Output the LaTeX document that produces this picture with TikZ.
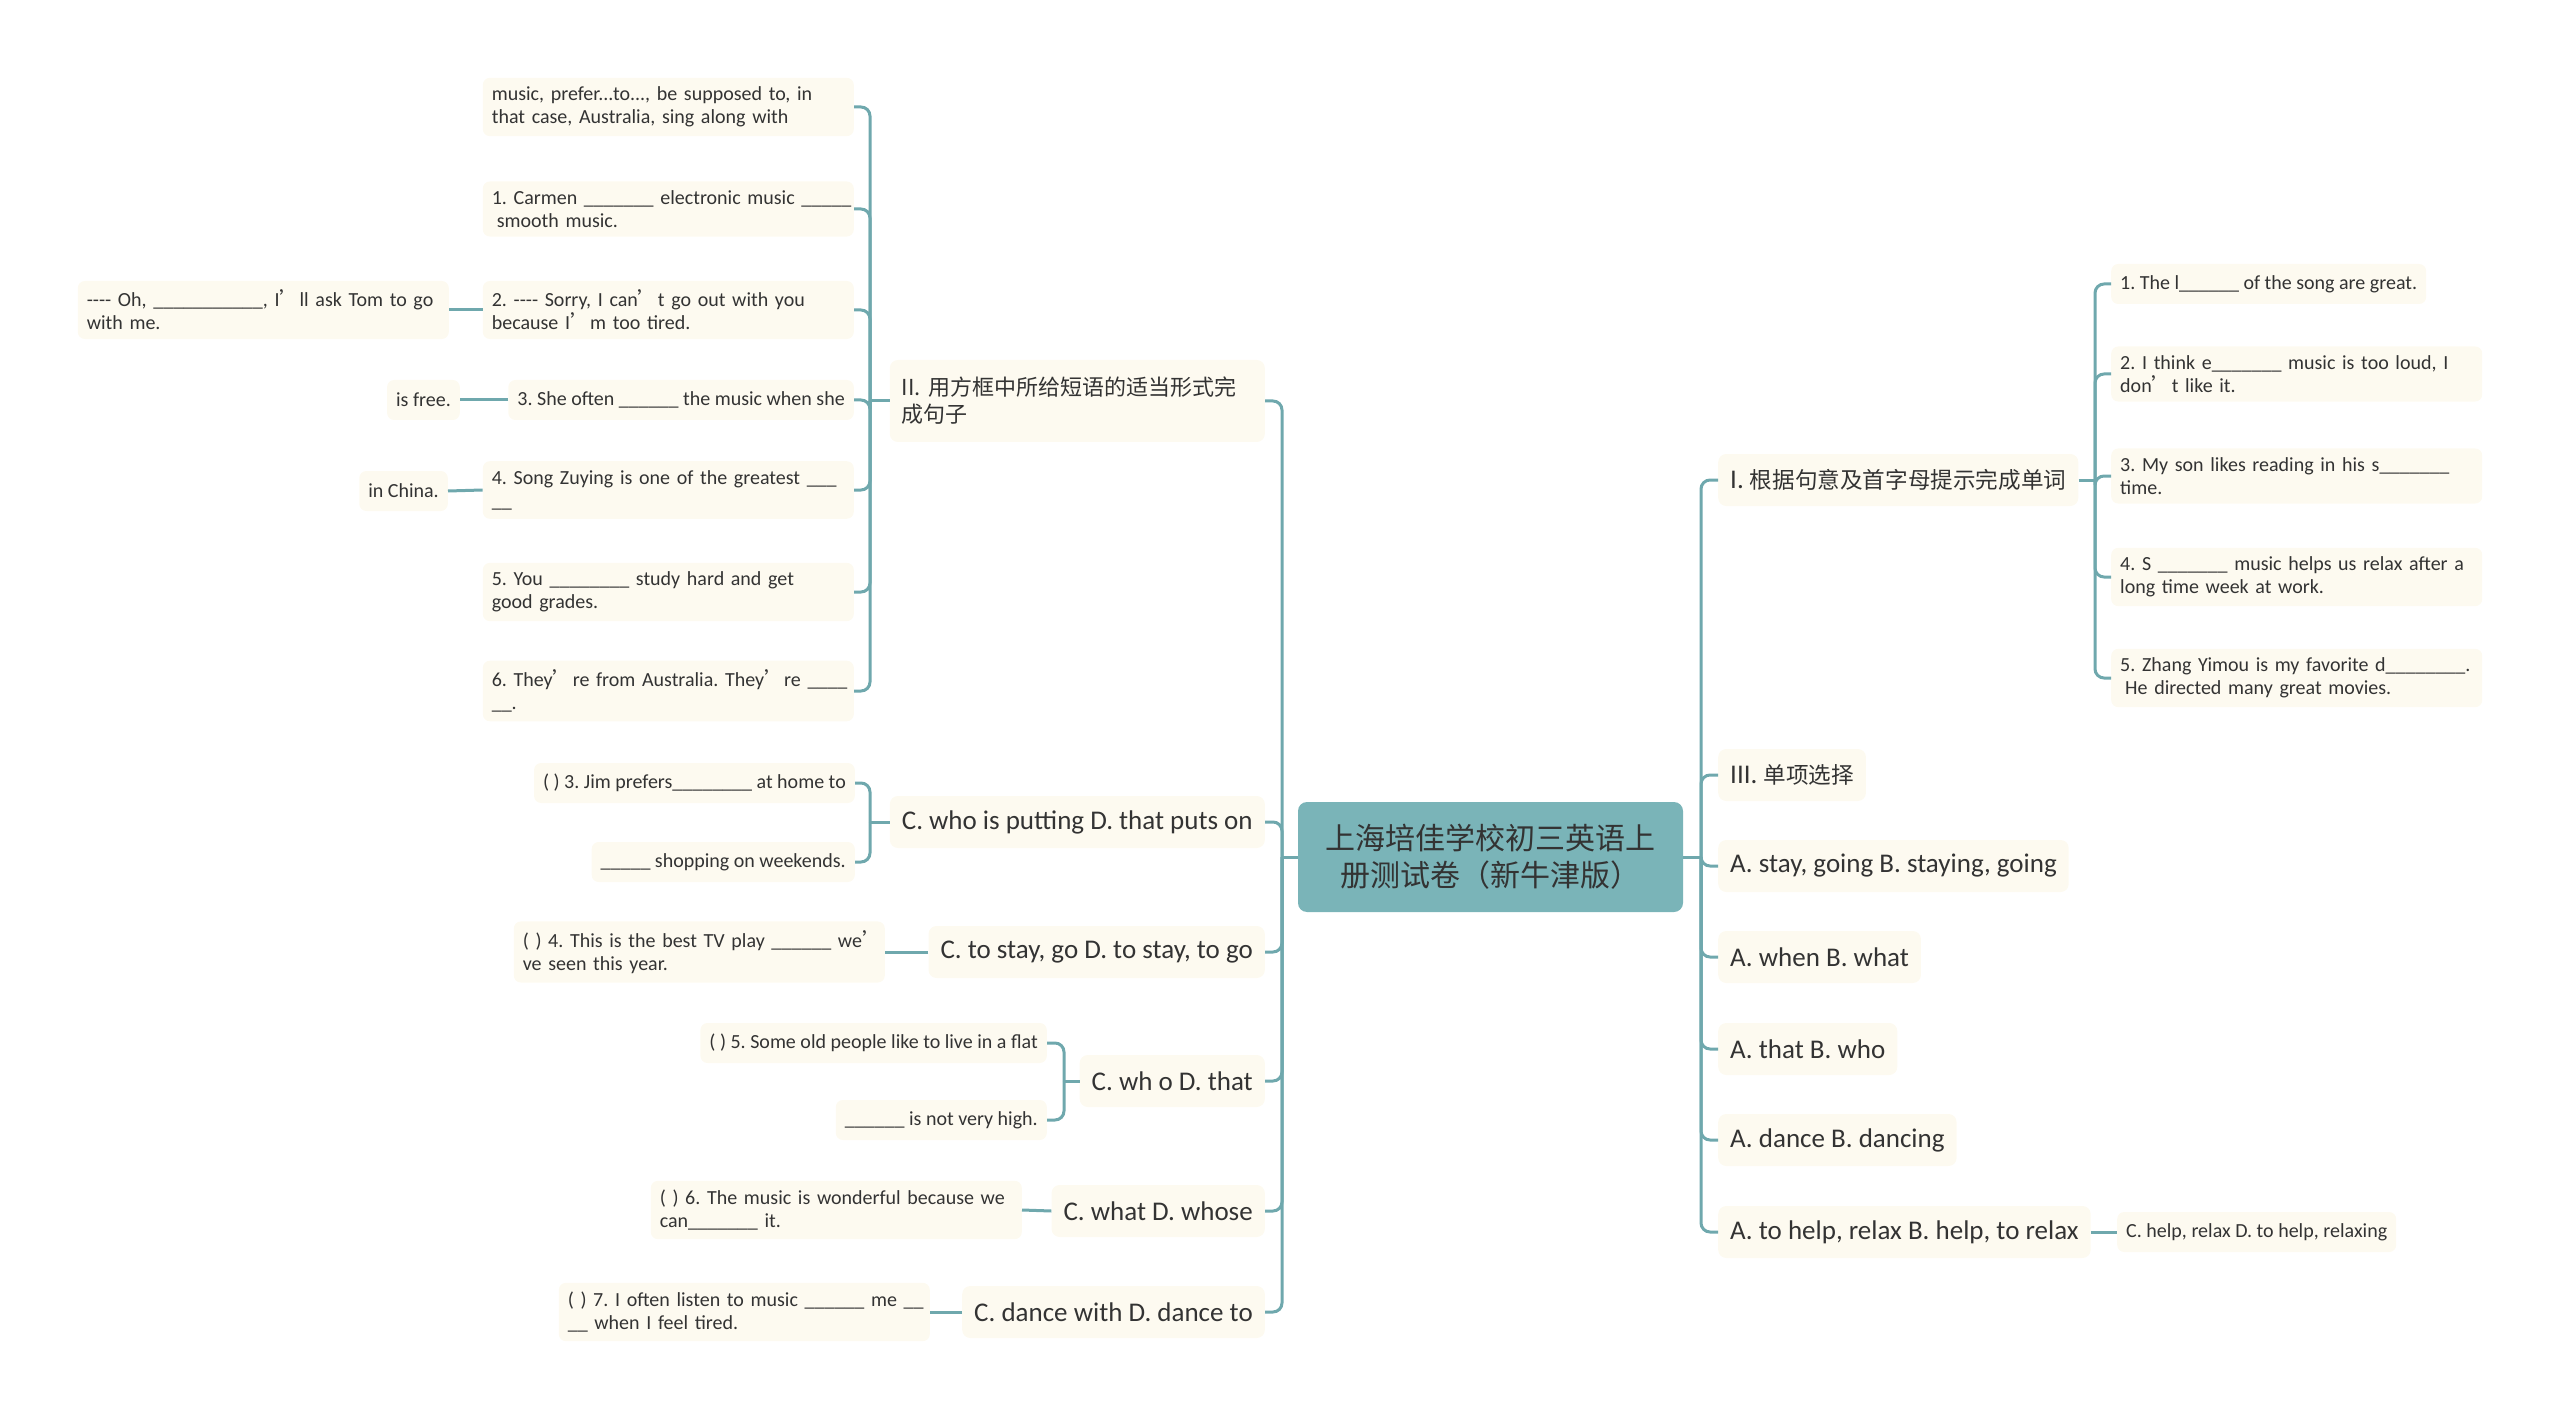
\documentclass[tikz,border=0pt]{standalone}
\usepackage{fontspec}
\setmainfont{Carlito}
\newfontfamily\cjk{Noto Sans CJK SC}
\newcommand\q{{\cjk ’}}
\newcommand\lne[1]{\mbox{#1}}
\frenchspacing
\hfuzz=100pt
\definecolor{conncol}{RGB}{111,168,173}
\definecolor{rootfill}{RGB}{122,180,184}
\definecolor{boxfill}{RGB}{253,250,240}
\definecolor{txt}{RGB}{51,51,51}
\tikzset{
  sbox/.style={fill=boxfill, rounded corners=7pt, text=txt, font=\frenchspacing\fontsize{20}{23}\selectfont, inner xsep=9pt, inner ysep=9pt, minimum height=40pt, align=left},
  sboxw/.style={sbox, text width=353pt},
  bbox/.style={fill=boxfill, rounded corners=8pt, text=txt, font=\frenchspacing\fontsize{27}{30}\selectfont, inner xsep=12pt, inner ysep=8pt, minimum height=52pt},
  rootbox/.style={fill=rootfill, rounded corners=9pt, text=txt, font=\cjk\fontsize{30}{37}\selectfont, align=center, minimum width=385pt, minimum height=110pt},
  conn/.style={draw=conncol, line width=3pt, rounded corners=9pt},
}
\begin{document}
\begin{tikzpicture}[x=1pt,y=-1pt]
\useasboundingbox (0,0) rectangle (2560,1420);
% root
\node[rootbox] (root) at (1490.5,857) {上海培佳学校初三英语上\\册测试卷（新牛津版）};
\coordinate (lt) at (1282,857);
\coordinate (rt) at (1701,857);
% left level 1
\node[bbox, anchor=east, font=\cjk\fontsize{22}{27}\selectfont, text width=351pt, align=left, minimum height=82pt] (L1) at (1265,401) {II. 用方框中所给短语的适当形式完\\成句子};
\node[bbox, anchor=east] (L2) at (1265,822) {C. who is putting D. that puts on};
\node[bbox, anchor=east] (L3) at (1265,952) {C. to stay, go D. to stay, to go};
\node[bbox, anchor=east] (L4) at (1265,1081) {C. wh o D. that};
\node[bbox, anchor=east] (L5) at (1265,1211) {C. what D. whose};
\node[bbox, anchor=east] (L6) at (1265,1312) {C. dance with D. dance to};
% L1 children
\node[sboxw, anchor=east] (a1) at (854,107) {\lne{music, prefer...to..., be supposed to, in}\\\lne{that case, Australia, sing along with}};
\node[sboxw, anchor=east] (a2) at (854,209) {\lne{1. Carmen \_\_\_\_\_\_\_ electronic music \_\_\_\_\_}\\\lne{\hspace{0.25em}smooth music.}};
\node[sboxw, anchor=east] (a3) at (854,310) {\lne{2. -{}-{}-{}- Sorry, I can\q t go out with you}\\\lne{because I\q m too tired.}};
\node[sboxw, anchor=east] (a3c) at (449,310) {\lne{-{}-{}-{}- Oh, \_\_\_\_\_\_\_\_\_\_\_, I\q ll ask Tom to go}\\\lne{with me.}};
\node[sbox, anchor=east] (a4) at (854,400) {3. She often \_\_\_\_\_\_ the music when she};
\node[sbox, anchor=east] (a4c) at (460,400) {is free.};
\node[sboxw, anchor=east] (a5) at (854,490) {\lne{4. Song Zuying is one of the greatest \_\_\_}\\\lne{\_\_}};
\node[sbox, anchor=east] (a5c) at (448,491) {in China.};
\node[sboxw, anchor=east] (a6) at (854,592) {\lne{5. You \_\_\_\_\_\_\_\_ study hard and get}\\\lne{good grades.}};
\node[sboxw, anchor=east] (a7) at (854,691) {\lne{6. They\q re from Australia. They\q re \_\_\_\_}\\\lne{\_\_.}};
% L2 children
\node[sbox, anchor=east] (b1) at (855,783) {( ) 3. Jim prefers\_\_\_\_\_\_\_\_ at home to};
\node[sbox, anchor=east] (b2) at (855,862) {\_\_\_\_\_ shopping on weekends.};
% L3 child
\node[sboxw, anchor=east] (c1) at (885,952) {\lne{( ) 4. This is the best TV play \_\_\_\_\_\_ we\q}\\\lne{ve seen this year.}};
% L4 children
\node[sbox, anchor=east] (d1) at (1047,1043) {( ) 5. Some old people like to live in a flat};
\node[sbox, anchor=east] (d2) at (1047,1120) {\_\_\_\_\_\_ is not very high.};
% L5 child
\node[sboxw, anchor=east] (e1) at (1022,1210) {\lne{( ) 6. The music is wonderful because we}\\\lne{can\_\_\_\_\_\_\_ it.}};
% L6 child
\node[sboxw, anchor=east] (f1) at (930,1312) {\lne{( ) 7. I often listen to music \_\_\_\_\_\_ me \_\_}\\\lne{\_\_ when I feel tired.}};
% right level 1
\node[bbox, anchor=west] (R1) at (1718,480) {I. {\cjk\fontsize{22.6}{30}\selectfont 根据句意及首字母提示完成单词}};
\node[bbox, anchor=west] (R2) at (1718,775) {III. {\cjk\fontsize{22.6}{30}\selectfont 单项选择}};
\node[bbox, anchor=west] (R3) at (1718,866) {A. stay, going B. staying, going};
\node[bbox, anchor=west] (R4) at (1718,957) {A. when B. what};
\node[bbox, anchor=west] (R5) at (1718,1049) {A. that B. who};
\node[bbox, anchor=west] (R6) at (1718,1140) {A. dance B. dancing};
\node[bbox, anchor=west] (R7) at (1718,1232) {A. to help, relax B. help, to relax};
\node[sbox, anchor=west] (R7c) at (2117,1232) {C. help, relax D. to help, relaxing};
% R1 children
\node[sbox, anchor=west] (r1) at (2111,284) {1. The l\_\_\_\_\_\_ of the song are great.};
\node[sboxw, anchor=west] (r2) at (2111,374) {\lne{2. I think e\_\_\_\_\_\_\_ music is too loud, I}\\\lne{don\q t like it.}};
\node[sboxw, anchor=west] (r3) at (2111,476) {\lne{3. My son likes reading in his s\_\_\_\_\_\_\_}\\\lne{time.}};
\node[sboxw, anchor=west] (r4) at (2111,577) {\lne{4. S \_\_\_\_\_\_\_ music helps us relax after a}\\\lne{long time week at work.}};
\node[sboxw, anchor=west] (r5) at (2111,678) {\lne{5. Zhang Yimou is my favorite d\_\_\_\_\_\_\_\_.}\\\lne{\hspace{0.25em}He directed many great movies.}};
% sub-trunk coordinates
\coordinate (l1t) at (870,401);
\coordinate (l2t) at (870,822);
\coordinate (l4t) at (1064,1081);
\coordinate (r1t) at (2095,480);
% connectors root
\draw[conn] (root.west) -- (lt);
\draw[conn] (root.east) -- (rt);
\foreach \n in {L1,L2,L3,L4,L5,L6} \draw[conn] (lt) |- (\n.east);
\foreach \n in {R1,R2,R3,R4,R5,R6,R7} \draw[conn] (rt) |- (\n.west);
% L1 subtree
\draw[conn] (L1.west) -- (l1t);
\foreach \n in {a1,a2,a3,a4,a5,a6,a7} \draw[conn] (l1t) |- (\n.east);
\draw[conn] (a3.west) -- (a3c.east);
\draw[conn] (a4.west) -- (a4c.east);
\draw[conn] (a5.west) -- (a5c.east);
% L2 subtree
\draw[conn] (L2.west) -- (l2t);
\foreach \n in {b1,b2} \draw[conn] (l2t) |- (\n.east);
% L3
\draw[conn] (L3.west) -- (c1.east);
% L4
\draw[conn] (L4.west) -- (l4t);
\foreach \n in {d1,d2} \draw[conn] (l4t) |- (\n.east);
% L5, L6
\draw[conn] (L5.west) -- (e1.east);
\draw[conn] (L6.west) -- (f1.east);
% R1 subtree
\draw[conn] (R1.east) -- (r1t);
\foreach \n in {r1,r2,r3,r4,r5} \draw[conn] (r1t) |- (\n.west);
\draw[conn] (R7.east) -- (R7c.west);
\end{tikzpicture}
\end{document}
